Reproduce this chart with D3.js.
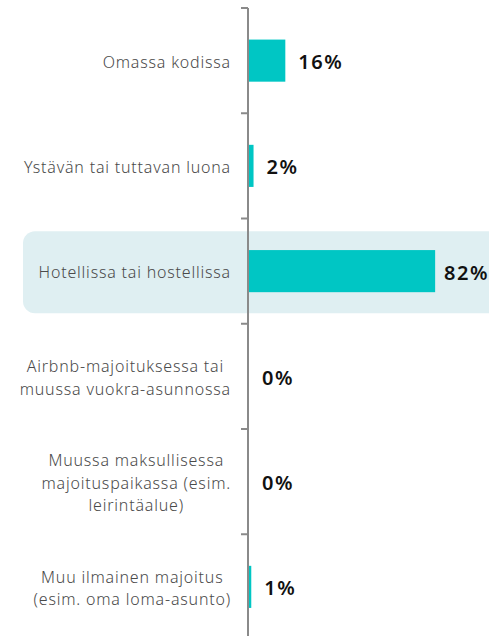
<!DOCTYPE html>
<html>
<head>
<meta charset="utf-8">
<script src="https://cdn.jsdelivr.net/npm/d3@7"></script>
<style>
  body { margin: 0; background: #fff; }
  svg { display: block; }
</style>
</head>
<body>
<svg id="chart" width="489" height="636"></svg>
<script>
// categories (label lines) and shares in percent
var categories = [
    ["Omassa kodissa"],
    ["Ystävän tai tuttavan luona"],
    ["Hotellissa tai hostellissa"],
    ["Airbnb-majoituksessa tai", "muussa vuokra-asunnossa"],
    ["Muussa maksullisessa", "majoituspaikassa (esim.", "leirintäalue)"],
    ["Muu ilmainen majoitus", "(esim. oma loma-asunto)"]
];
var values = [16, 2, 82, 0, 0, 1];
var highlighted = 2; // "Hotellissa tai hostellissa"

var width = 489, height = 636;
var svg = d3.select("#chart");

var idx = d3.range(categories.length);
var y = d3.scaleBand().domain(idx).range([8, 639.5]).padding(0);
var x = d3.scaleLinear().domain([0, 100]).range([249, 476]);
var bw = y.bandwidth();

// highlight band behind the chosen row
svg.append("rect")
    .attr("x", 23)
    .attr("y", y(highlighted) + bw * 0.12)
    .attr("width", width + 20)
    .attr("height", bw * 0.78)
    .attr("rx", 12)
    .attr("fill", "#dfeff2");

// bars
svg.selectAll("rect.bar")
    .data(idx)
    .enter().append("rect")
    .attr("class", "bar")
    .attr("x", x(0))
    .attr("y", function (i) { return y(i) + bw * 0.3; })
    .attr("width", function (i) { return x(values[i]) - x(0); })
    .attr("height", bw * 0.4)
    .attr("fill", "#00c6c4");

// axis line + ticks at band edges
var axisX = 248;
svg.append("line")
    .attr("x1", axisX).attr("x2", axisX)
    .attr("y1", y(0)).attr("y2", height)
    .attr("stroke", "#8a8a8a").attr("stroke-width", 2);
svg.selectAll("line.tick")
    .data(idx)
    .enter().append("line")
    .attr("class", "tick")
    .attr("x1", axisX - 7).attr("x2", axisX)
    .attr("y1", function (i) { return y(i); })
    .attr("y2", function (i) { return y(i); })
    .attr("stroke", "#8a8a8a").attr("stroke-width", 2);

// category labels: block right-aligned, lines centred within block
var labelRight = 231, lineH = 22.5;
idx.forEach(function (i) {
    var lines = categories[i];
    var g = svg.append("g");
    var t = g.selectAll("text").data(lines).enter().append("text")
        .attr("font-family", "'Noto Sans', sans-serif")
        .attr("font-size", 16)
        .attr("font-weight", 300)
        .attr("letter-spacing", 0.8)
        .attr("fill", "#4a4a4a")
        .attr("text-anchor", "middle")
        .attr("dominant-baseline", "central")
        .text(function (d) { return d; });
    var maxW = 0;
    t.each(function () { maxW = Math.max(maxW, this.getComputedTextLength()); });
    var cy = y(i) + bw / 2 + 1;
    t.attr("x", labelRight - maxW / 2)
     .attr("y", function (d, k) { return cy + (k - (lines.length - 1) / 2) * lineH; });
});

// value labels
svg.selectAll("text.val")
    .data(idx)
    .enter().append("text")
    .attr("class", "val")
    .attr("font-family", "'Noto Sans', sans-serif")
    .attr("font-weight", 600)
    .attr("font-size", 20)
    .attr("letter-spacing", 1.5)
    .attr("fill", "#111")
    .attr("dominant-baseline", "central")
    .attr("y", function (i) { return y(i) + bw / 2 + 1; })
    .text(function (i) { return values[i] + "%"; })
    .attr("x", function (i) {
        var w = this.getComputedTextLength();
        return Math.min(x(values[i]) + 13, width - w);
    });
</script>
</body>
</html>
